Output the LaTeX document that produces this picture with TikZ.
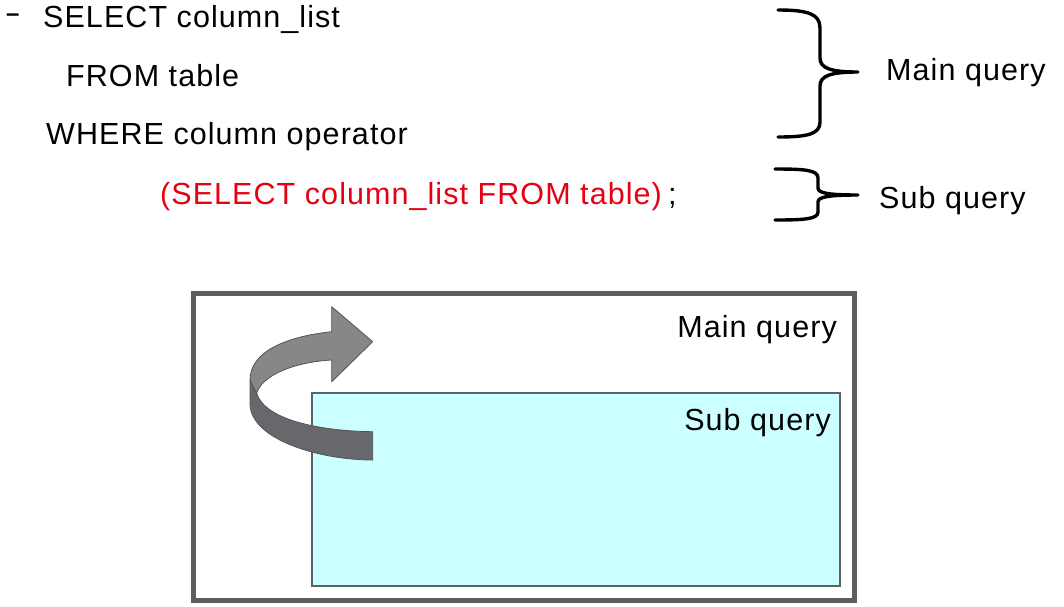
\documentclass[tikz,border=0pt]{standalone}
\usepackage{fontspec}
\setmainfont{Liberation Sans}[LetterSpace=3.5]
\definecolor{boxgray}{HTML}{5E5E5E}
\definecolor{subfill}{HTML}{CCFFFF}
\definecolor{subedge}{HTML}{5A6464}
\definecolor{sqlred}{HTML}{E60012}
\definecolor{arrowlight}{HTML}{878787}
\definecolor{arrowdark}{HTML}{67686C}
\definecolor{arrowedge}{HTML}{555555}
\begin{document}
\begin{tikzpicture}[x=1pt,y=-1pt,
  txt/.style={font=\fontsize{30.5}{36}\selectfont, inner sep=0pt, anchor=base west},
  txtr/.style={txt, anchor=base east},
  bracepath/.style={line width=3.4pt, line cap=round, line join=round},
  arrowface/.style={draw=arrowedge, line width=0.8pt, line join=round}]
\useasboundingbox (0,0) rectangle (1064,606);

% code lines
\node[txt, font=\fontsize{24}{28}\selectfont\bfseries] (dash) at (6,21) {–};
\node[txt] (sel) at (43,27) {SELECT column\_list};
\node[txt] (from) at (66,86) {FROM table};
\node[txt] (where) at (46,144) {WHERE column operator};
\node[txt, text=sqlred] (sub) at (160,204) {(SELECT column\_list FROM table)};
\node[txt] (semi) at (668,204) {;};

% braces
\draw[bracepath] (778,10) .. controls (808,10) and (820,14) .. (820,28)
  -- (820,58) .. controls (820,68) and (830,72) .. (858,72)
  .. controls (830,72) and (820,76) .. (820,86)
  -- (820,122) .. controls (820,134) and (808,137) .. (778,137);
\draw[bracepath] (775,169) .. controls (805,169) and (818,170) .. (818,178)
  -- (818,188) .. controls (818,193) and (828,195) .. (858,195)
  .. controls (828,195) and (818,197) .. (818,202)
  -- (818,212) .. controls (818,219) and (805,220) .. (775,220);
\node[txt] (mainlbl) at (886,80) {Main query};
\node[txt] (sublbl) at (879,208) {Sub query};

% boxes
\draw[boxgray, line width=5pt] (193,293) rectangle (854,600);
\node[txtr] (mainbox) at (837,337) {Main query};
\draw[subedge, fill=subfill, line width=1.5pt] (312,393) rectangle (840,586);
\node[txtr] (subbox) at (831,430) {Sub query};

% curved arrow (3D ribbon)
\fill[arrowface, fill=arrowdark] (250,380) -- (250,405)
  .. controls (252,440) and (320,460) .. (372.7,460)
  -- (372.7,431.7)
  .. controls (320,431) and (265,420) .. (256.7,393.3) -- cycle;
\fill[arrowface, fill=arrowlight] (331.7,331.7) -- (331.7,306.7) -- (372.7,341.7)
  -- (331.7,381.7) -- (331.7,360)
  .. controls (295,362) and (262,375) .. (256.7,393.3)
  -- (250,380)
  .. controls (250,350) and (290,336) .. (331.7,331.7) -- cycle;
\end{tikzpicture}
\end{document}
